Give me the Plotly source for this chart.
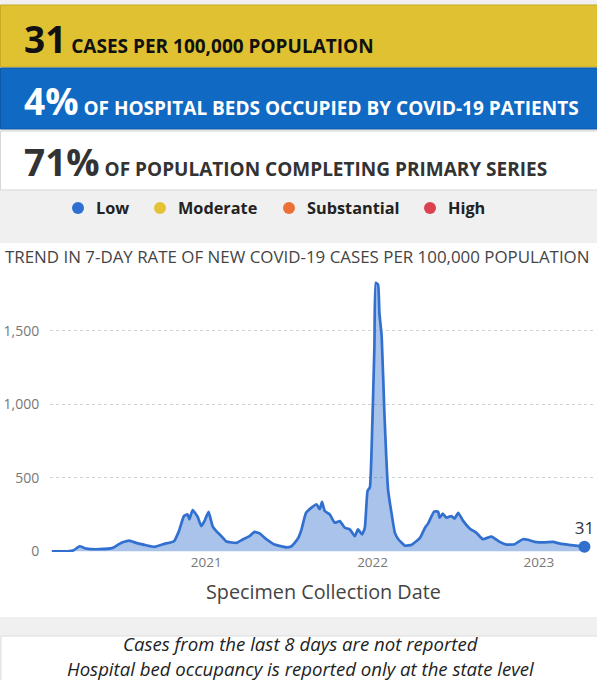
import plotly.graph_objects as go

# ---------------- data ----------------
dates = [
    "2020-01-28", "2020-03-03", "2020-03-15", "2020-03-29", "2020-04-13", "2020-05-11",
    "2020-06-10", "2020-06-28", "2020-07-16", "2020-07-31", "2020-08-22", "2020-09-09",
    "2020-10-01", "2020-10-22", "2020-11-02", "2020-11-13", "2020-11-21", "2020-11-25",
    "2020-12-02", "2020-12-13", "2020-12-21", "2020-12-28", "2021-01-06", "2021-01-15",
    "2021-01-23", "2021-02-03", "2021-02-14", "2021-03-08", "2021-03-22", "2021-04-06",
    "2021-04-17", "2021-04-28", "2021-05-13", "2021-05-31", "2021-06-26", "2021-07-07",
    "2021-07-14", "2021-07-22", "2021-07-29", "2021-08-08", "2021-08-20", "2021-08-31",
    "2021-09-07", "2021-09-12", "2021-09-18", "2021-09-29", "2021-10-10", "2021-10-21",
    "2021-11-01", "2021-11-12", "2021-11-23", "2021-11-30", "2021-12-09", "2021-12-15",
    "2021-12-21", "2021-12-26", "2021-12-30", "2022-01-05", "2022-01-08", "2022-01-13",
    "2022-01-16", "2022-01-21", "2022-01-27", "2022-02-04", "2022-02-12", "2022-02-19",
    "2022-02-27", "2022-03-13", "2022-03-28", "2022-04-15", "2022-04-26", "2022-05-03",
    "2022-05-16", "2022-05-25", "2022-05-28", "2022-06-04", "2022-06-12", "2022-06-23",
    "2022-06-30", "2022-07-08", "2022-07-18", "2022-08-02", "2022-08-17", "2022-08-31",
    "2022-09-19", "2022-10-07", "2022-10-22", "2022-11-09", "2022-11-27", "2022-12-08",
    "2022-12-23", "2023-01-13", "2023-02-01", "2023-02-19", "2023-03-13", "2023-04-11",
]
cases = [
    0, 0, 5, 34, 18, 14,
    23, 57, 73, 57, 41, 30,
    50, 68, 137, 240, 251, 217,
    280, 235, 171, 205, 268, 170,
    137, 103, 66, 57, 80, 103,
    132, 122, 82, 46, 27, 34,
    57, 91, 149, 262, 297, 320,
    286, 336, 274, 251, 194, 205,
    160, 149, 103, 149, 114, 160,
    411, 434, 708, 1393, 1827, 1815,
    1621, 1461, 936, 420, 251, 125,
    80, 38, 45, 91, 160, 190,
    270, 269, 228, 256, 228, 240,
    222, 262, 210, 155, 125, 82,
    100, 64, 45, 48, 82, 78,
    64, 60, 64, 50, 42, 31,
]
latest_value = 31

y_ticks = [0, 500, 1000, 1500]
x_ticks = ["2021-01-01", "2022-01-01", "2023-01-01"]
x_tick_labels = ["2021", "2022", "2023"]

banner_values = ["31", "4%", "71%"]
banner_labels = ["CASES PER 100,000 POPULATION",
                 "OF HOSPITAL BEDS OCCUPIED BY COVID-19 PATIENTS",
                 "OF POPULATION COMPLETING PRIMARY SERIES"]
legend_labels = ["Low", "Moderate", "Substantial", "High"]
legend_colors = ["#2f6fd2", "#e3c235", "#ec6f36", "#dc4152"]

chart_title = "TREND IN 7-DAY RATE OF NEW COVID-19 CASES PER 100,000 POPULATION"
x_title = "Specimen Collection Date"
footer_lines = ["Cases from the last 8 days are not reported",
                "Hospital bed occupancy is reported only at the state level"]

# ---------------- layout helpers ----------------
W, H = 597, 680          # reference picture size (positions below are in these pixels)
FIG_H = 688              # rendered page height (viewport is slightly taller than the picture)
FONT = "Open Sans"


def px(x):
    return x / W


def py(y):
    return 1 - y / H


line_col = "#3270d0"
fig = go.Figure()
fig.add_trace(go.Scatter(
    x=dates, y=cases, mode="lines",
    line=dict(color=line_col, width=2.7, shape="spline", smoothing=0.4),
    fill="tozeroy", fillcolor="rgba(46,109,204,0.41)",
    hoverinfo="skip", showlegend=False,
))
fig.add_trace(go.Scatter(
    x=[dates[-1]], y=[latest_value], mode="markers+text",
    marker=dict(color=line_col, size=12),
    text=[str(latest_value)], textposition="top center",
    textfont=dict(family=FONT, size=17, color="#333333"),
    cliponaxis=False, hoverinfo="skip", showlegend=False,
))

shapes = []
# white chart panel and footer panel
shapes.append(dict(type="rect", xref="paper", yref="paper", x0=0, x1=1,
                   y0=py(617), y1=py(243), fillcolor="white", line=dict(width=0), layer="below"))
shapes.append(dict(type="rect", xref="paper", yref="paper", x0=px(1), x1=1.01,
                   y0=py(681), y1=py(636), fillcolor="white",
                   line=dict(width=1, color="#dddddd"), layer="below"))
# banners
banner_rows = [(5, 67, "#e0c132", "#c9aa22"), (68, 129, "#1069c3", "#0c5aa8"), (131, 190, "#ffffff", "#d6d6d6")]
for (y0, y1, fc, lc) in banner_rows:
    shapes.append(dict(type="rect", xref="paper", yref="paper", x0=px(0.5), x1=1.01,
                       y0=py(y1), y1=py(y0), fillcolor=fc, line=dict(width=1, color=lc), layer="below"))
# legend dots
legend_dot_x = [78, 160, 289, 430]
for cx, col in zip(legend_dot_x, legend_colors):
    r = 6
    shapes.append(dict(type="circle", xref="paper", yref="paper",
                       x0=px(cx - r), x1=px(cx + r), y0=py(208 + r), y1=py(208 - r),
                       fillcolor=col, line=dict(width=0)))

annotations = []
banner_text_colors = ["#111111", "#ffffff", "#333333"]
banner_centers = [38, 100, 161]
for val, lab, col, cy in zip(banner_values, banner_labels, banner_text_colors, banner_centers):
    annotations.append(dict(
        xref="paper", yref="paper", x=px(22), y=py(cy), xanchor="left", yanchor="middle",
        showarrow=False,
        text=f"<b><span style='font-size:37px'>{val}</span></b><span style='font-size:19px'> <b>{lab}</b></span>",
        font=dict(family=FONT, size=19, color=col),
    ))
legend_text_x = [94, 176, 305, 446]
for tx, lab in zip(legend_text_x, legend_labels):
    annotations.append(dict(xref="paper", yref="paper", x=px(tx), y=py(208), xanchor="left",
                            yanchor="middle", showarrow=False, text=f"<b>{lab}</b>",
                            font=dict(family=FONT, size=16.3, color="#222222")))
annotations.append(dict(xref="paper", yref="paper", x=px(3), y=py(256), xanchor="left",
                        yanchor="middle", showarrow=False, text=chart_title,
                        font=dict(family=FONT, size=16.9, color="#444444")))
annotations.append(dict(xref="paper", yref="paper", x=px(323), y=py(591), xanchor="center",
                        yanchor="middle", showarrow=False, text=x_title,
                        font=dict(family=FONT, size=19.8, color="#444444")))
for i, line in enumerate(footer_lines):
    annotations.append(dict(xref="paper", yref="paper", x=px(301), y=py(643 + 25 * i),
                            xanchor="center", yanchor="middle", showarrow=False,
                            text=f"<i>{line}</i>",
                            font=dict(family=FONT, size=18.6, color="#222222")))

fig.update_layout(
    width=W, height=FIG_H, margin=dict(l=0, r=0, t=0, b=0),
    paper_bgcolor="#f0f0f0", plot_bgcolor="rgba(0,0,0,0)",
    font=dict(family=FONT),
    shapes=shapes, annotations=annotations,
    xaxis=dict(domain=[px(50), px(594)], range=["2020-01-24", "2023-05-02"],
               tickvals=x_ticks, ticktext=x_tick_labels,
               showgrid=False, zeroline=False, showline=False,
               ticks="", tickfont=dict(family=FONT, size=13.5, color="#777777")),
    yaxis=dict(domain=[py(552), py(275)], range=[-5, 1880],
               tickvals=y_ticks, tickformat=",",
               showgrid=True, gridcolor="#d2d2d2", griddash="dot", gridwidth=1,
               zeroline=False, showline=False,
               ticks="outside", ticklen=7, tickcolor="rgba(0,0,0,0)",
               tickfont=dict(family=FONT, size=14, color="#777777")),
)

post = ("document.documentElement.style.margin='0px';"
        "document.documentElement.style.overflow='hidden';"
        "document.body.style.margin='0px';"
        "document.body.style.overflow='hidden';")
fig.write_html("out.html", config={"displayModeBar": False}, post_script=post)
